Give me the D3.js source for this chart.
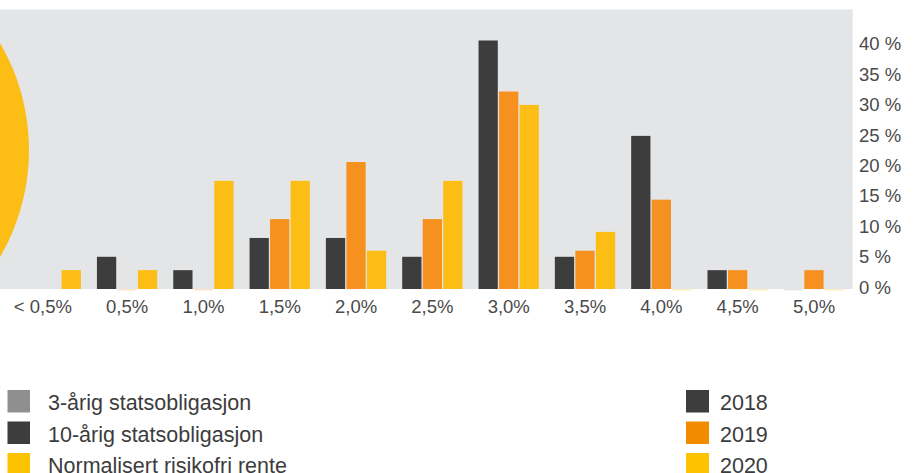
<!DOCTYPE html>
<html>
<head>
<meta charset="utf-8">
<script src="https://cdn.jsdelivr.net/npm/d3@7"></script>
<style>
  html, body { margin: 0; padding: 0; background: #ffffff; }
  svg { display: block; font-family: "Liberation Sans", Arial, Helvetica, sans-serif; }
</style>
</head>
<body>
<svg id="chart" width="920" height="473"></svg>
<script>
// Rate buckets on the x axis
const categories = ["< 0,5%", "0,5%", "1,0%", "1,5%", "2,0%", "2,5%", "3,0%", "3,5%", "4,0%", "4,5%", "5,0%"];

// Share of answers per bucket (%), one array per survey year (null = no answer option that year)
const years = ["2018", "2019", "2020"];
const values2018 = [null, 5.3, 3.1, 8.4, 8.4, 5.3, 40.9, 5.3, 25.2, 3.1, 0];
const values2019 = [null, 0, 0, 11.5, 20.9, 11.5, 32.5, 6.3, 14.7, 3.1, 3.1];
const values2020 = [3.1, 3.1, 17.8, 17.8, 6.3, 17.8, 30.3, 9.4, 0, 0, 0];

// Y axis ticks (%)
const yTicks = [0, 5, 10, 15, 20, 25, 30, 35, 40];

// Legends
const rateLegend = ["3-årig statsobligasjon", "10-årig statsobligasjon", "Normalisert risikofri rente"];
const rateColors = ["#8f8f8f", "#3d3d3d", "#fdc200"];
const yearLegendColors = ["#3d3d3d", "#f28b00", "#fdc200"];

const barColors = { "2018": "#3d3d3d", "2019": "#f6901f", "2020": "#fcbd14" };

const svg = d3.select("#chart");

// Plot frame
const plot = { left: 0, right: 852.7, top: 9.5, bottom: 289 };

const y = d3.scaleLinear().domain([0, 46]).range([plot.bottom, plot.top]);

const x = d3.scaleBand()
  .domain(categories)
  .range([0, 864.7])
  .paddingInner(0.21)
  .paddingOuter(0.27);

const xSeries = d3.scaleBand()
  .domain(years)
  .range([0, x.bandwidth()])
  .paddingInner(0.06)
  .paddingOuter(0);

// Plot background
svg.append("rect")
  .attr("x", plot.left)
  .attr("y", plot.top)
  .attr("width", plot.right - plot.left)
  .attr("height", plot.bottom - plot.top)
  .attr("fill", "#e4e5e7");

// Neighbouring pie panel, partly in view at the left edge
svg.append("circle")
  .attr("cx", -183)
  .attr("cy", 150)
  .attr("r", 212)
  .attr("fill", "#fcbd14");

// Bars
const rows = categories.map((c, i) => ({
  category: c,
  values: [
    { year: "2018", value: values2018[i] },
    { year: "2019", value: values2019[i] },
    { year: "2020", value: values2020[i] }
  ].filter(d => d.value !== null)
}));

const groups = svg.append("g").selectAll("g")
  .data(rows)
  .join("g")
  .attr("transform", d => `translate(${x(d.category)},0)`);

// Zero shares are drawn as a faint hairline on the baseline
groups.selectAll("rect")
  .data(d => d.values)
  .join("rect")
  .attr("x", d => xSeries(d.year))
  .attr("width", xSeries.bandwidth())
  .attr("y", d => d.value > 0 ? y(d.value) : y(0))
  .attr("height", d => d.value > 0 ? y(0) - y(d.value) : 1.5)
  .attr("fill", d => d.value === 0 && d.year === "2018" ? "#9a9a9a" : barColors[d.year])
  .attr("fill-opacity", d => d.value > 0 ? 1 : 0.25);

// Y axis labels on the right
const yAxis = d3.axisRight(y)
  .tickValues(yTicks)
  .tickSize(0)
  .tickPadding(0)
  .tickFormat(d => d + " %");

svg.append("g")
  .attr("transform", "translate(859,0)")
  .call(yAxis)
  .call(g => g.select(".domain").remove())
  .call(g => g.selectAll("text")
    .attr("x", 0)
    .attr("dy", 4)
    .attr("font-size", 18.5)
    .attr("font-family", "\"Liberation Sans\", Arial, sans-serif")
    .attr("fill", "#4a4a4a"));

// X axis labels, right-aligned within each group
const xAxis = d3.axisBottom(x).tickSize(0).tickPadding(0);
svg.append("g")
  .attr("transform", `translate(0,${plot.bottom})`)
  .call(xAxis)
  .call(g => g.select(".domain").remove())
  .call(g => g.selectAll("text")
    .attr("text-anchor", "end")
    .attr("x", x.bandwidth() / 2 - 9)
    .attr("y", 24)
    .attr("dy", 0)
    .attr("font-size", 18.5)
    .attr("font-family", "\"Liberation Sans\", Arial, sans-serif")
    .attr("fill", "#4a4a4a"));

// Legends
const legendRowY = d3.scalePoint().domain([0, 1, 2]).range([390, 453]);

const leftLegend = svg.append("g");
rateLegend.forEach((label, i) => {
  leftLegend.append("rect")
    .attr("x", 7.5).attr("y", legendRowY(i))
    .attr("width", 22.5).attr("height", 22.5)
    .attr("fill", rateColors[i]);
  leftLegend.append("text")
    .attr("x", 48).attr("y", legendRowY(i) + 20)
    .attr("font-size", 21.5)
    .attr("fill", "#3c3c3c")
    .text(label);
});

const rightLegend = svg.append("g");
years.forEach((label, i) => {
  rightLegend.append("rect")
    .attr("x", 686).attr("y", legendRowY(i))
    .attr("width", 23).attr("height", 22.5)
    .attr("fill", yearLegendColors[i]);
  rightLegend.append("text")
    .attr("x", 720).attr("y", legendRowY(i) + 20)
    .attr("font-size", 21.5)
    .attr("fill", "#3c3c3c")
    .text(label);
});
</script>
</body>
</html>
